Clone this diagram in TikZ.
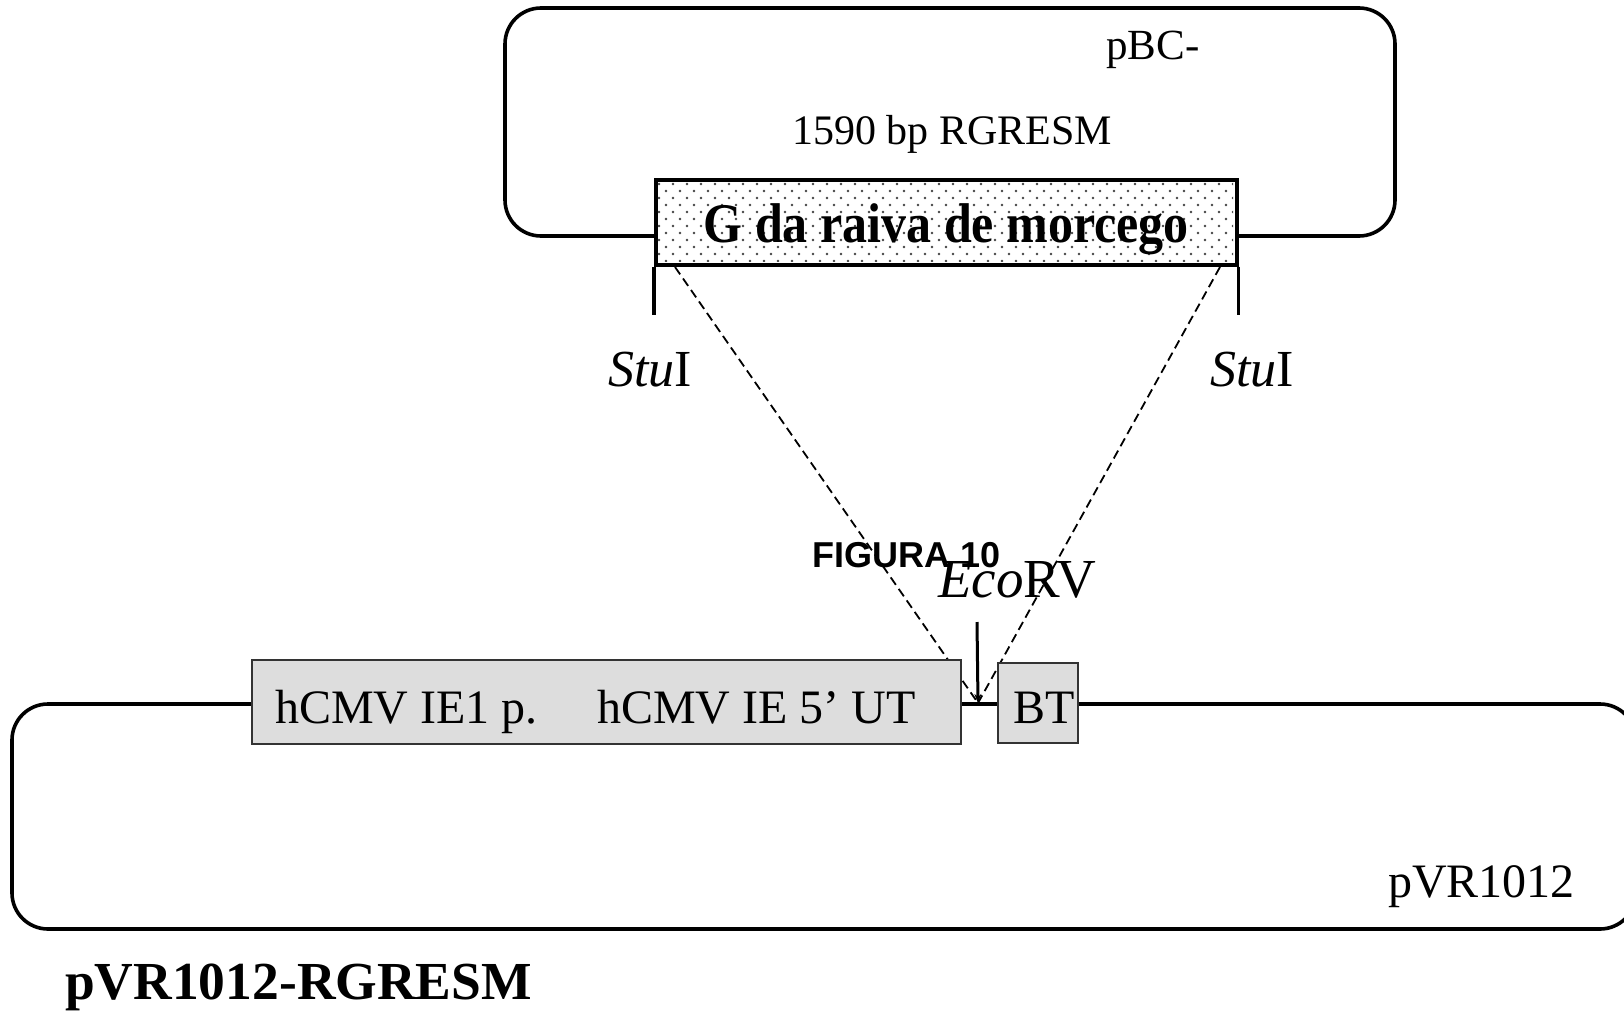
\documentclass[tikz,border=0pt]{standalone}
\usepackage{fontspec}
\setmainfont{Liberation Serif}
\newfontfamily\figsans{Liberation Sans}
\usetikzlibrary{arrows.meta}
\definecolor{boxgray}{HTML}{DDDDDD}
\definecolor{dotgray}{HTML}{444444}
\newcommand\fsz[1]{\fontsize{#1}{#1}\selectfont}

\begin{document}
\begin{tikzpicture}[x=1pt,y=-1pt,
  plasmid/.style={draw=black,line width=3.6pt,rounded corners=36pt},
  genebox/.style={draw=black,fill=white,line width=3.6pt,anchor=north west,inner sep=0pt},
  elembox/.style={draw=black!80,fill=boxgray,line width=1.8pt,anchor=north west,inner sep=0pt},
  lbl/.style={inner sep=0pt,anchor=base west},
  cutline/.style={line width=3.4pt},
  insert/.style={line width=1.8pt,dash pattern=on 9pt off 5pt},
]
\useasboundingbox (0,0) rectangle (1624,1014);
\clip (0,0) rectangle (1624,1014);

% donor plasmid pBC-RGRESM
\draw[plasmid] (505,8) rectangle (1395,236);
\node[lbl] (pbc) at (1106,60) {\fsz{43}pBC-};
\node[lbl] (size) at (792,145) {\fsz{42}1590 bp RGRESM};

% StuI flanks and the inserted fragment
\coordinate (site) at (978,703);
\coordinate (gl) at (675,267);
\coordinate (gr) at (1220,267);
\draw[insert] (gl) -- (site);
\draw[insert] (gr) -- (site);

% rabies G gene box with dotted fill
\node[genebox,minimum width=581pt,minimum height=85pt] (gene) at (654,178) {};
\begin{scope}
  \clip (656,180) rectangle (1233,261);
  \foreach \r in {0,...,12}{
    \foreach \c in {0,...,42}{
      \fill[dotgray] ({659+14*\c+mod(\r,2)*7},{184+7*\r}) circle (1.4);
    }
  }
\end{scope}
\node[inner sep=0pt] (genetxt) at ([yshift=-7pt]gene.center) {\fsz{50}\scalebox{1}[1.12]{\bfseries G da raiva de morcego}};

\draw[cutline] (gene.south west) -- ++(0,48) coordinate (stuL);
\draw[cutline] (gene.south east) -- ++(0,48) coordinate (stuR);
\node[lbl] (stu1) at (608,386) {\fsz{52}\textit{Stu}I};
\node[lbl] (stu2) at (1210,386) {\fsz{52}\textit{Stu}I};

% recipient vector pVR1012
\draw[plasmid] (12,704) rectangle (1636,929);
\node[elembox,minimum width=709pt,minimum height=84pt] (cmv) at (251,659) {};
\node[elembox,minimum width=80pt,minimum height=80pt] (bt) at (997,662) {};
\node[lbl] (ie1) at (275,723) {\fsz{48}hCMV IE1 p.};
\node[lbl] (utr) at (597,723) {\fsz{48}hCMV IE 5’ UT};
\node[lbl] (btl) at (1013,723) {\fsz{48}BT};
\node[lbl] (pvr) at (1388,897) {\fsz{48}pVR1012};

% EcoRV cloning site
\coordinate (ecotop) at (977,622);
\draw[line width=3pt,-{Stealth[length=9pt,width=7pt]}] (ecotop) -- (site);
\node[lbl] (fig) at (812,567) {\figsans\fsz{36}\bfseries FIGURA 10};
\node[lbl] (eco) at (938,597) {\fsz{55}\textit{Eco}RV};

% resulting construct
\node[lbl] (result) at (65,999) {\fsz{53.5}\bfseries pVR1012-RGRESM};
\end{tikzpicture}
\end{document}
